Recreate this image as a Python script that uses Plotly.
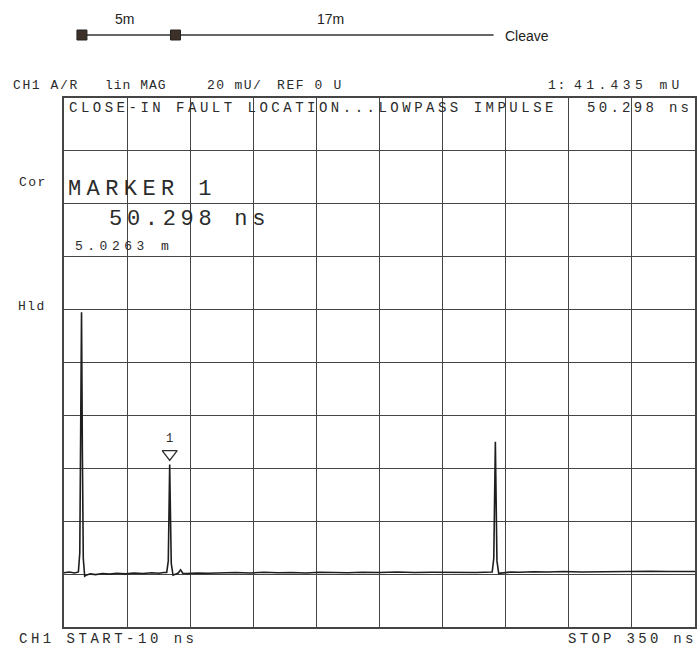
import plotly.graph_objects as go

# impulse response trace (time in ns, amplitude in mU)
trace_t = [-10, -7, -4, -2.5, -1.8, -1.0, -0.5, 0.0, 0.5, 1.0, 1.8, 3, 5, 8, 12, 16,
           20, 25, 30, 35, 40, 44, 47, 48.6, 49.5, 50.0, 50.3, 50.7, 51.2, 52.2,
           54, 55.2, 56.5, 57.8, 60, 66, 72, 80, 88, 96, 104, 112, 120, 128, 136,
           144, 152, 160, 170, 180, 190, 200, 210, 218, 225, 230, 234.3, 235.2,
           235.7, 236.1, 236.5, 237.0, 238.0, 241, 245, 250, 258, 266, 275, 285,
           295, 305, 315, 325, 335, 343, 350]
trace_v = [0.5, 0.8, 0.4, 0.6, 0.8, 8, 45, 99, 45, 6, -0.8, -0.3, 0.1, -0.2, 0.2, 0.0,
           0.3, 0.1, 0.4, 0.2, 0.5, 0.3, 0.6, 0.6, 5, 26, 41.4, 24, 4, -0.4,
           0.2, 0.4, 1.6, 0.3, 0.2, 0.4, 0.3, 0.5, 0.6, 0.4, 0.7, 0.5, 0.6, 0.4, 0.7,
           0.6, 0.5, 0.7, 0.6, 0.8, 0.6, 0.7, 0.6, 0.8, 0.6, 0.7, 0.8, 6,
           30, 50, 30, 5, 0.3, 0.6, 0.8, 0.7, 0.9, 0.8, 1.0, 0.8,
           0.9, 1.0, 0.9, 1.1, 1.0, 1.1, 1.0]

marker_t = [50.298]
marker_v = [41.435]

# cable sketch above the display
seg_lengths = [5, 17]
seg_labels = ["5m", "17m"]
conn_pos = [0, 5]
cable_end = 22

START, STOP, NDIV = -10, 350, 10
REF_LO, REF_HI = -20, 180

# page geometry (px)
L, R, T, B = 64, 697, 10, 627
GRID_TOP = 98
M_PX = 18.77  # sketch px per metre

INK = "#2b2b2b"
MONO = "Liberation Mono"


def px(x):
    return (x - L) / (R - L)


def py(y):
    return (B - y) / (B - T)


def label(fig, x, y, text, size=14, spacing=3.5, xanchor="left"):
    fig.add_annotation(
        x=px(x), y=py(y), xref="paper", yref="paper",
        text=f'<span style="letter-spacing:{spacing}px">{text}</span>',
        showarrow=False, xanchor=xanchor, yanchor="middle",
        font=dict(family=MONO, size=size, color=INK)
    )


fig = go.Figure()

fig.add_trace(go.Scatter(
    x=trace_t, y=trace_v, mode="lines",
    line=dict(color="#1e1e1e", width=1.6),
    hoverinfo="skip", showlegend=False
))

# marker 1 symbol sits just above the peak
fig.add_trace(go.Scatter(
    x=marker_t, y=[v + 4 for v in marker_v], mode="markers+text",
    marker=dict(symbol="triangle-down-open", size=13, color=INK, line=dict(width=1.3)),
    text=["1"], textposition="top center",
    textfont=dict(family=MONO, size=12, color=INK),
    cliponaxis=False, showlegend=False
))

# reference position arrow at left edge
fig.add_trace(go.Scatter(
    x=[START - 3], y=[0], mode="markers",
    marker=dict(symbol="triangle-right-open", size=7, color=INK, line=dict(width=1)),
    cliponaxis=False, showlegend=False
))

# cable sketch
fig.add_trace(go.Scatter(
    x=[0, cable_end], y=[0, 0], mode="lines", xaxis="x2", yaxis="y2",
    line=dict(color="#333333", width=1.6), showlegend=False
))
fig.add_trace(go.Scatter(
    x=conn_pos, y=[0] * len(conn_pos), mode="markers", xaxis="x2", yaxis="y2",
    marker=dict(symbol="square", size=10, color="#3d3029", line=dict(color="#222", width=1)),
    showlegend=False
))
for start, length, txt in zip(conn_pos, seg_lengths, seg_labels):
    fig.add_annotation(x=start + length / 2, y=0, xref="x2", yref="y2", text=txt,
                       showarrow=False, yshift=16, xshift=-4,
                       font=dict(family="Liberation Sans", size=14, color="#222"))
fig.add_annotation(x=cable_end, y=0, xref="x2", yref="y2", text="Cleave",
                   showarrow=False, xanchor="left", xshift=9, yshift=-1,
                   font=dict(family="Liberation Sans", size=14, color="#222"))

grid = dict(showgrid=True, gridcolor="#454545", gridwidth=1.4, zeroline=False,
            showticklabels=False, ticks="", showline=True, linecolor="#454545",
            linewidth=1.5, mirror=True)

fig.update_layout(
    width=700, height=649,
    margin=dict(l=L, r=700 - R, t=T, b=649 - B),
    paper_bgcolor="white", plot_bgcolor="white",
    xaxis=dict(range=[START, STOP], tick0=START, dtick=(STOP - START) / NDIV, **grid),
    yaxis=dict(range=[REF_LO, REF_HI], tick0=0, dtick=20, domain=[0, py(GRID_TOP)], **grid),
    xaxis2=dict(anchor="y2", domain=[0, 1], visible=False,
                range=[-(82 - L) / M_PX, (R - 82) / M_PX]),
    yaxis2=dict(anchor="x2", domain=[py(50), py(20)], visible=False, range=[-1, 1]),
)

label(fig, 11, 86, "CH1 A/R", 13, 1.6)
label(fig, 103, 86, "lin MAG", 13, 1.0)
label(fig, 205, 86, "20 mU/", 13, 1.4)
label(fig, 276, 86, "REF 0 U", 13, 1.6)
label(fig, 548, 86, "1:", 13, 1.6)
label(fig, 574, 86, "41.435 mU", 13, 4.4)

label(fig, 67, 108, "CLOSE-IN FAULT LOCATION...LOWPASS IMPULSE", 14, 3.5)
label(fig, 587, 108, "50.298 ns", 14, 3.3)

label(fig, 17, 183, "Cor", 13, 1.5)
label(fig, 66, 190, "MARKER 1", 22, 5.4)
label(fig, 107, 220, "50.298 ns", 22, 4.7)
label(fig, 73, 246, "5.0263 m", 13, 4.5)
label(fig, 16, 306, "Hld", 13, 1.5)

label(fig, 17, 639, "CH1 START-10 ns", 14, 3.5)
label(fig, 568, 639, "STOP 350 ns", 14, 3.3)

fig.write_html("out.html", config={"displayModeBar": False},
               post_script="document.body.style.margin='0';")
